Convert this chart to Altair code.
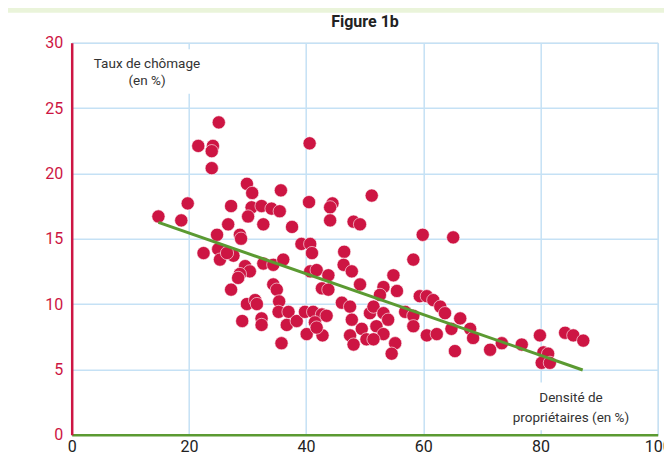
import altair as alt
import pandas as pd

# Density of home-owners (%) and unemployment rate (%)
x_vals = [14.8, 18.7, 19.8, 21.6, 24.1, 23.9, 25.1, 23.9, 40.6, 29.9,
          30.8, 35.7, 27.2, 30.7, 32.4, 34.1, 35.5, 30.1, 32.7, 26.7,
          37.6, 40.5, 44.5, 44.1, 44.1, 48.1, 49.2, 51.2, 24.8, 28.7,
          28.9, 22.5, 39.2, 40.7, 41.0, 46.5, 59.9, 65.1, 58.3, 25.0,
          25.3, 27.6, 26.5, 29.6, 30.4, 28.7, 32.7, 34.4, 36.1, 40.7,
          41.8, 43.8, 28.4, 27.2, 34.4, 35.0, 29.9, 31.3, 31.6, 29.1,
          32.4, 32.4, 35.4, 35.3, 37.0, 36.7, 35.8, 38.4, 39.8, 41.2,
          42.7, 43.5, 40.1, 42.8, 41.5, 41.8, 42.7, 43.8, 46.4, 47.8,
          49.2, 46.1, 47.5, 47.8, 47.5, 48.1, 49.5, 50.3, 50.9, 54.9,
          53.2, 52.6, 55.5, 59.4, 60.6, 61.7, 62.9, 63.7, 56.9, 58.3,
          58.3, 51.5, 53.2, 54.0, 52.0, 53.2, 51.5, 55.2, 54.6, 60.6,
          62.3, 64.8, 66.3, 68.0, 68.5, 65.4, 71.4, 73.4, 76.8, 79.9,
          80.5, 81.3, 80.2, 81.6, 84.2, 85.6, 87.3]
y_vals = [16.7, 16.4, 17.7, 22.1, 22.1, 21.7, 23.9, 20.4, 22.3, 19.2,
          18.5, 18.7, 17.5, 17.4, 17.5, 17.3, 17.1, 16.7, 16.1, 16.1,
          15.9, 17.8, 17.7, 17.4, 16.4, 16.3, 16.1, 18.3, 15.3, 15.3,
          15.0, 13.9, 14.6, 14.6, 13.9, 14.0, 15.3, 15.1, 13.4, 14.2,
          13.4, 13.7, 13.9, 12.9, 12.5, 12.3, 13.1, 13.0, 13.4, 12.5,
          12.6, 12.2, 12.0, 11.1, 11.5, 11.1, 10.0, 10.3, 10.0, 8.7,
          8.9, 8.4, 10.2, 9.4, 9.4, 8.4, 7.0, 8.7, 9.4, 9.4,
          9.2, 9.1, 7.7, 7.6, 8.6, 8.2, 11.2, 11.1, 13.0, 12.5,
          11.5, 10.1, 9.8, 8.8, 7.6, 6.9, 8.1, 7.3, 9.3, 12.2,
          11.3, 10.7, 11.0, 10.6, 10.6, 10.3, 9.8, 9.3, 9.4, 9.1,
          8.3, 9.8, 9.3, 8.8, 8.3, 7.7, 7.3, 7.0, 6.2, 7.6,
          7.7, 8.1, 8.9, 8.1, 7.4, 6.4, 6.5, 7.0, 6.9, 7.6,
          6.3, 6.2, 5.5, 5.5, 7.8, 7.6, 7.2]

# Fitted trend line end points
fit_x = [14.8, 87.2]
fit_y = [16.25, 4.95]

x_ticks = [0, 20, 40, 60, 80, 100]
y_ticks = [0, 5, 10, 15, 20, 25, 30]

# Axis captions
cap_lines = ["Taux de chômage", "(en %)", "Densité de", "propriétaires (en %)"]
cap_x = [12.85, 12.85, 85.2, 85.2]
cap_y = [28.4, 27.05, 2.78, 1.27]
box_x = [3.1, 75.3]
box_x2 = [22.6, 94.9]
box_y = [29.5, 4.0]
box_y2 = [26.1, 0.35]

title_text = ["Figure 1b"]

FONT = "Roboto, sans-serif"
RED = "#CD1543"
GREEN = "#5B9A32"
GRID = "#C5E1F5"

df = pd.DataFrame({"x": x_vals, "y": y_vals})
fit = pd.DataFrame({"x": fit_x, "y": fit_y})
caps = pd.DataFrame({"t": cap_lines, "x": cap_x, "y": cap_y})
boxes = pd.DataFrame({"x": box_x, "x2": box_x2, "y": box_y, "y2": box_y2})
ttl = pd.DataFrame({"t": title_text})

xs = alt.Scale(domain=[0, 100], nice=False)
ys = alt.Scale(domain=[0, 30], nice=False)

xaxis = alt.Axis(values=x_ticks, grid=True, gridColor=GRID, gridWidth=1.5,
                 domainColor=GREEN, domainWidth=2.5, ticks=False,
                 labelFont=FONT, labelFontSize=16, labelColor="#222",
                 labelPadding=4, labelFlush=False, title=None)
yaxis = alt.Axis(values=y_ticks, grid=True, gridColor=GRID, gridWidth=1.5,
                 domainColor=RED, domainWidth=2.5, ticks=False,
                 labelFont=FONT, labelFontSize=16, labelColor=RED,
                 labelPadding=9, labelFlush=False, title=None)

base_pts = alt.Chart(df).mark_circle(
    size=175, color=RED, opacity=1, stroke="white", strokeWidth=0.6
).encode(
    x=alt.X("x:Q", scale=xs, axis=xaxis),
    y=alt.Y("y:Q", scale=ys, axis=yaxis),
)

box_layer = alt.Chart(boxes).mark_rect(color="white").encode(
    x=alt.X("x:Q", scale=xs), x2="x2:Q",
    y=alt.Y("y:Q", scale=ys), y2="y2:Q",
)

cap_layer = alt.Chart(caps).mark_text(
    font=FONT, fontSize=13.5, color="#333", align="center", baseline="middle"
).encode(
    x=alt.X("x:Q", scale=xs), y=alt.Y("y:Q", scale=ys), text="t:N"
)

line_layer = alt.Chart(fit).mark_line(color=GREEN, strokeWidth=3).encode(
    x=alt.X("x:Q", scale=xs), y=alt.Y("y:Q", scale=ys)
)

band = alt.Chart(pd.DataFrame({"a": [0]})).mark_rect(color="#EAF4DA").encode(
    x=alt.value(-64), x2=alt.value(600), y=alt.value(-35), y2=alt.value(-30)
)

title_layer = alt.Chart(ttl).mark_text(
    font=FONT, fontSize=16, fontWeight="bold", color="#222",
    align="center", baseline="alphabetic"
).encode(x=alt.value(293.3), y=alt.value(-15.7), text="t:N")

chart = alt.layer(band, base_pts, box_layer, cap_layer, line_layer, title_layer).properties(
    width=586, height=392,
    autosize=alt.AutoSizeParams(type="none"),
    padding={"left": 63.7, "top": 34.7, "right": 6.3, "bottom": 23.3},
).configure_view(stroke=None).configure(background="white")

chart.save("out.html", embed_options={"renderer": "svg", "actions": False})
